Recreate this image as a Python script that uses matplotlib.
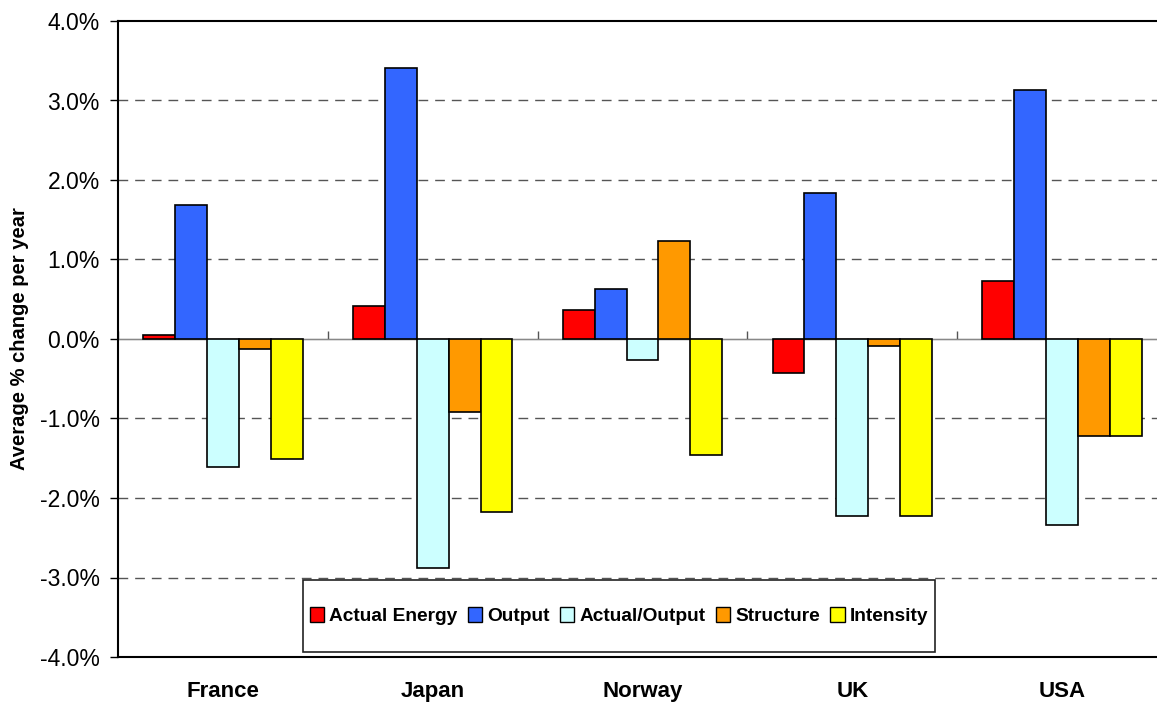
import numpy as np
import matplotlib.pyplot as plt
from matplotlib.patches import Rectangle, Patch
from matplotlib.ticker import FuncFormatter, MultipleLocator

countries = ['France', 'Japan', 'Norway', 'UK', 'USA']
series = ['Actual Energy', 'Output', 'Actual/Output', 'Structure', 'Intensity']

# average % change per year
actual_energy = [0.05, 0.42, 0.37, -0.43, 0.73]
output = [1.69, 3.41, 0.63, 1.84, 3.13]
actual_output = [-1.61, -2.88, -0.26, -2.23, -2.34]
structure = [-0.13, -0.92, 1.23, -0.09, -1.22]
intensity = [-1.51, -2.17, -1.46, -2.23, -1.22]

colors = ['#FF0000', '#3366FF', '#CCFFFF', '#FF9900', '#FFFF00']
values = [actual_energy, output, actual_output, structure, intensity]

plt.rcParams['font.family'] = ['Liberation Sans', 'DejaVu Sans']

fig = plt.figure(figsize=(11.57, 7.03), dpi=100)
W, H = 1157.0, 703.0
ax = fig.add_axes([118 / W, 1 - 657 / H, 1049 / W, 636 / H])

x = np.arange(len(countries))
width = 0.152
for i, (vals, c) in enumerate(zip(values, colors)):
    ax.bar(x + (i - 2) * width, vals, width, color=c, edgecolor='black',
           linewidth=1.2, zorder=3, label=series[i])

ax.set_xlim(-0.5, len(countries) - 0.5)
ax.set_ylim(-4, 4)
ax.yaxis.set_major_locator(MultipleLocator(1))
ax.yaxis.set_major_formatter(FuncFormatter(lambda v, p: '%.1f%%' % v))
ax.tick_params(axis='y', labelsize=16.5, length=6, width=1, direction='out', pad=7)

# gridlines, zero line left solid
for v in range(-3, 4):
    if v == 0:
        continue
    ax.axhline(v, color='#555555', linestyle=(0, (7, 5)), linewidth=1, zorder=1)
ax.axhline(0, color='#888888', linewidth=1, zorder=2)

# category labels underneath the plot area
ax.set_xticks(x)
ax.set_xticklabels(countries, fontsize=16, fontweight='bold')
ax.tick_params(axis='x', length=0, pad=17)

# category dividers sitting on the zero line
sec = ax.secondary_xaxis(0.5)
sec.spines['bottom'].set_visible(False)
sec.set_xticks(np.arange(len(countries) + 1) - 0.5)
sec.set_xticklabels([])
sec.tick_params(length=6, width=1, color='#555555', direction='out')

for s in ['top', 'bottom', 'left']:
    ax.spines[s].set_linewidth(1.5)
ax.spines['right'].set_visible(False)

ax.set_ylabel('Average % change per year', fontsize=14.5, fontweight='bold')
ax.yaxis.set_label_coords(-89 / 1049, 0.5)

# legend box
frame = Rectangle(((303 - 118) / 1049, (657 - 652) / 636), 632 / 1049, 72 / 636,
                  transform=ax.transAxes, facecolor='white', edgecolor='#222222',
                  linewidth=1.2, zorder=4)
ax.add_patch(frame)
handles = [Patch(facecolor=c, edgecolor='black', linewidth=1) for c in colors]
ax.legend(handles, series, loc='center', bbox_to_anchor=((619 - 118) / 1049, 41 / 636),
          ncol=5, frameon=False, handlelength=0.75, handleheight=0.8, handletextpad=0.25,
          columnspacing=0.55, prop={'weight': 'bold', 'size': 13.8}).set_zorder(5)

fig.savefig('out.png', dpi=100)
